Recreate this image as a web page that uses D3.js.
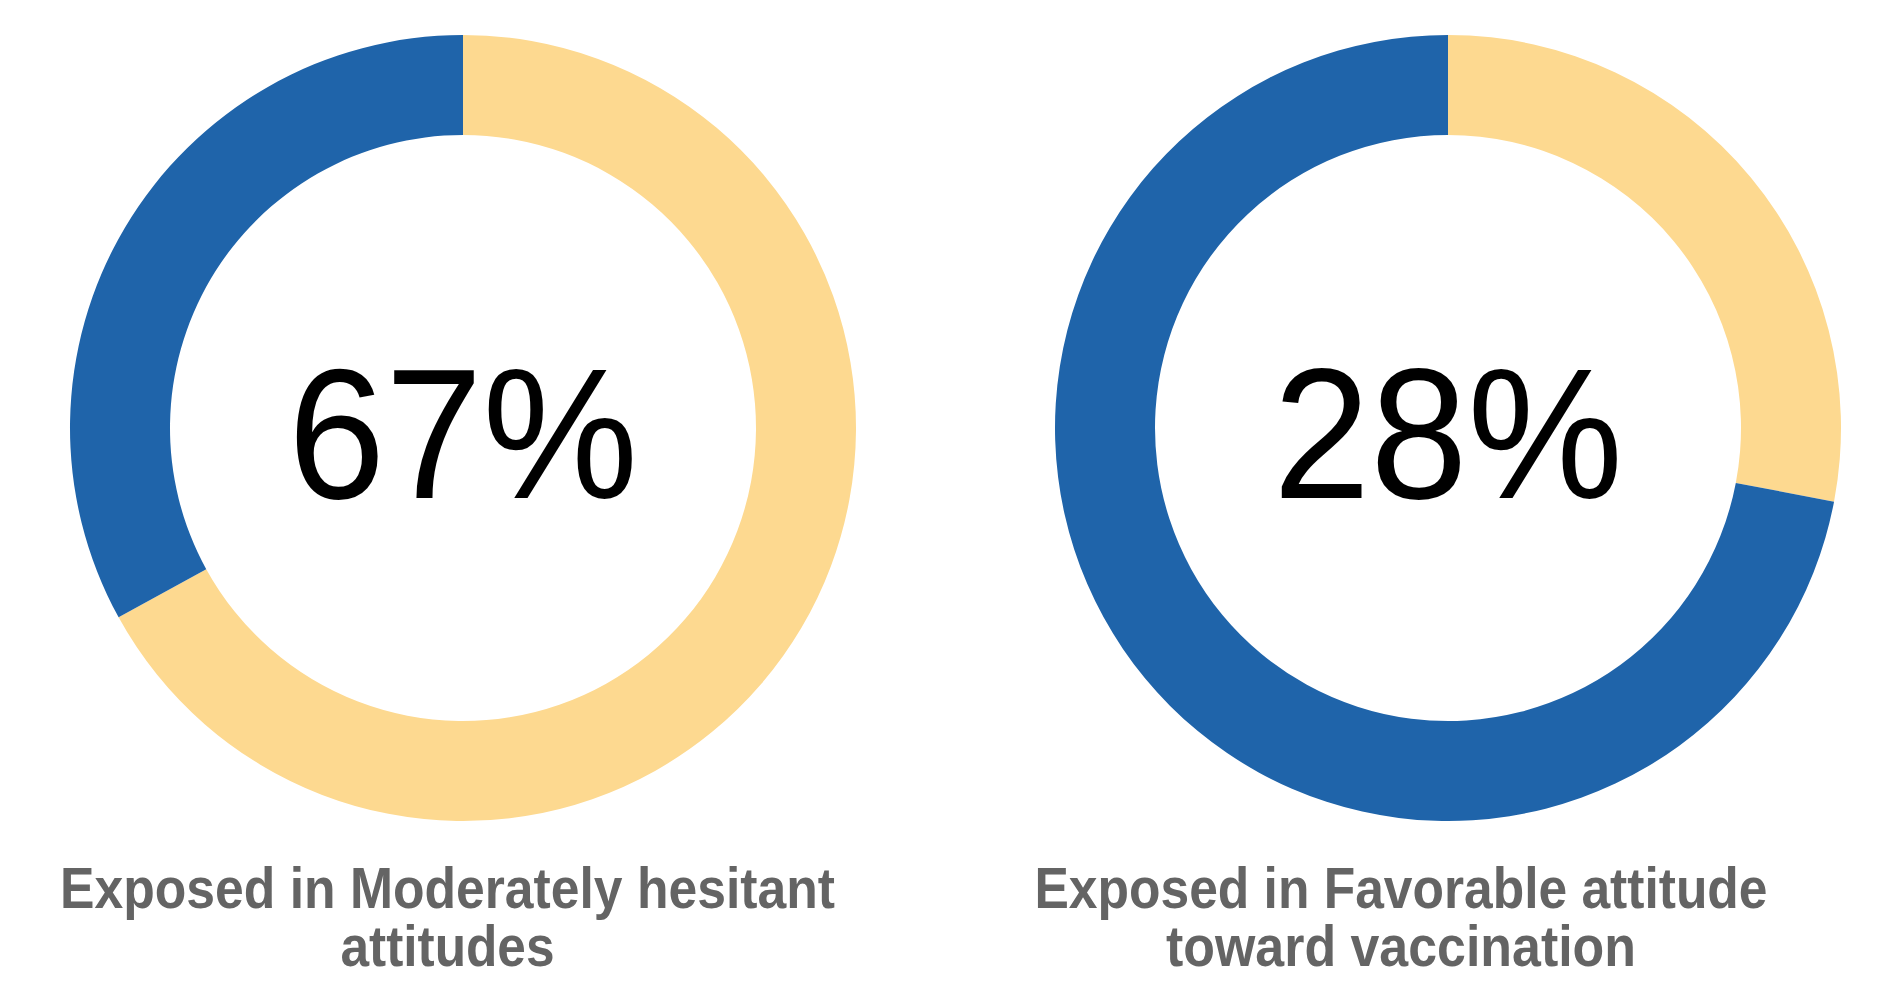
<!DOCTYPE html>
<html>
<head>
<meta charset="utf-8">
<script src="https://cdn.jsdelivr.net/npm/d3@7"></script>
<style>
  html, body { margin: 0; padding: 0; background: #ffffff; }
  svg { display: block; }
</style>
</head>
<body>
<script>
// ---- data ----
const categories = [
  "Exposed in Moderately hesitant attitudes",
  "Exposed in Favorable attitude toward vaccination"
];
const labelLines = [
  ["Exposed in Moderately hesitant", "attitudes"],
  ["Exposed in Favorable attitude", "toward vaccination"]
];
const exposedPct = [67, 28];
const segmentNames = ["Exposed", "Not exposed"];

// ---- layout ----
const W = 1887, H = 991;
const centers = [[463, 428], [1448, 428]];
const labelX = [447.5, 1401];
const lineWidths = [[775, 214], [733, 470]];
const outerR = 393, innerR = 293;
const colors = d3.scaleOrdinal().domain(segmentNames).range(["#fdd990", "#1f64aa"]);

const svg = d3.select("body").append("svg").attr("width", W).attr("height", H);

const pie = d3.pie().sort(null).value(d => d.v).startAngle(0).endAngle(2 * Math.PI);
const arc = d3.arc().innerRadius(innerR).outerRadius(outerR);

categories.forEach((cat, i) => {
  const g = svg.append("g").attr("transform", `translate(${centers[i][0]},${centers[i][1]})`);
  const data = [
    { name: segmentNames[0], v: exposedPct[i] },
    { name: segmentNames[1], v: 100 - exposedPct[i] }
  ];
  g.selectAll("path").data(pie(data)).join("path")
    .attr("d", arc)
    .attr("fill", d => colors(d.data.name));

  g.append("text")
    .attr("x", 0).attr("y", 70)
    .attr("text-anchor", "middle")
    .attr("font-family", "'Liberation Sans', Arial, sans-serif")
    .attr("font-size", 186)
    .attr("textLength", 350)
    .attr("lengthAdjust", "spacingAndGlyphs")
    .attr("fill", "#000")
    .text(exposedPct[i] + "%");

  const lbl = svg.append("g");
  labelLines[i].forEach((ln, j) => {
    lbl.append("text")
      .attr("x", labelX[i])
      .attr("y", 908 + j * 58)
      .attr("text-anchor", "middle")
      .attr("font-family", "'Liberation Sans', Arial, sans-serif")
      .attr("font-weight", "bold")
      .attr("font-size", 57)
      .attr("textLength", lineWidths[i][j])
      .attr("lengthAdjust", "spacingAndGlyphs")
      .attr("fill", "#646464")
      .text(ln);
  });
});
</script>
</body>
</html>
